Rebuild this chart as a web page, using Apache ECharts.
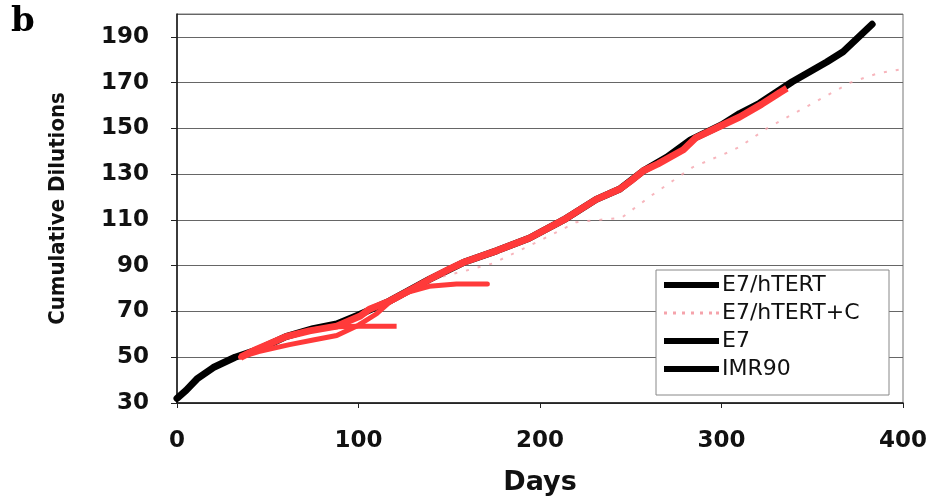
<!DOCTYPE html>
<html>
<head>
<meta charset="utf-8">
<script src="https://cdn.jsdelivr.net/npm/echarts@6/dist/echarts.min.js"></script>
<style>html,body{margin:0;padding:0;background:#fff}#c{width:933px;height:501px}</style>
</head>
<body>
<div id="c"></div>
<script>
// ---- data ----
var hTERT_days = [0, 5, 11, 20, 32, 45, 60, 75, 88, 100, 117, 139, 158, 176, 194, 213, 231, 244, 257, 270, 283, 300, 310, 321, 339, 358, 367, 383];
var hTERT_vals = [32, 35.5, 40.5, 45.5, 50, 53.5, 59, 62.5, 64.5, 68.5, 74.5, 84, 91.5, 96.5, 102, 110, 119, 123.5, 131.5, 137.5, 145, 151.5, 156.5, 161, 170.4, 179, 183.5, 195.5];

var hTERTC_days = [35, 44, 60, 73, 88, 101, 106, 117, 130, 139, 150, 158, 167, 176, 185, 194, 213, 222, 231, 244, 250, 257, 265, 279, 286, 298, 310, 322, 332, 336];
var hTERTC_vals = [50, 53.5, 59, 61.5, 63.6, 68, 71, 74.5, 80, 84, 88.5, 91.5, 94, 96.5, 99.3, 102, 110, 114.5, 119, 123.5, 127, 131.5, 134.5, 140.7, 146, 150.5, 155, 160.5, 165.6, 167.5];

var hTERTCdot_days = [140, 160, 174, 200, 220, 245, 262, 273, 284, 299, 305, 310, 325, 348, 371, 380, 386, 400];
var hTERTCdot_vals = [84, 88, 91, 101, 109, 111, 121, 127, 133, 138, 140, 142, 150, 160, 170, 172.5, 174, 176];

var E7_days = [35, 45, 62, 75, 88, 100, 110, 117, 127, 139, 154, 171];
var E7_vals = [50, 52.5, 55.5, 57.5, 59.5, 64, 69, 74, 78.4, 81, 82, 82];

var IMR90_days = [35, 45, 60, 75, 88, 100, 121];
var IMR90_vals = [50, 53.5, 59, 62, 63.3, 63.5, 63.5];

var seriesNames = ['E7/hTERT', 'E7/hTERT+C', 'E7', 'IMR90'];
var xTicks = [0, 100, 200, 300, 400];
var yTicks = [30, 50, 70, 90, 110, 130, 150, 170, 190];

function pairs(d, v) { return d.map(function (x, i) { return [x, v[i]]; }); }

var chart = echarts.init(document.getElementById('c'), null, {renderer: 'canvas'});
var RED = '#ff3a3a';
var PINK = '#f5a3ab';
var labelFont = 'DejaVu Sans';
var condFont = '"Liberation Sans Narrow", "DejaVu Sans Condensed", "DejaVu Sans", sans-serif';
var dotIcon = 'path://M0,0h3v3h-3z M9,0h3v3h-3z M18,0h3v3h-3z M27,0h3v3h-3z M36,0h3v3h-3z M45,0h3v3h-3z M52,0h3v3h-3z';

chart.setOption({
  animation: false,
  backgroundColor: '#fff',
  grid: {left: 177, right: 30, top: 14, bottom: 97, show: true, borderColor: '#777', borderWidth: 1},
  xAxis: {
    type: 'value', min: xTicks[0], max: xTicks[xTicks.length - 1], interval: 100,
    name: 'Days', nameLocation: 'middle', nameGap: 66,
    nameTextStyle: {fontFamily: labelFont, fontWeight: 'bold', fontSize: 27, color: '#111'},
    axisLine: {show: true, lineStyle: {color: '#111', width: 1.5}},
    axisTick: {show: true, length: 5, lineStyle: {color: '#222'}},
    axisLabel: {fontFamily: labelFont, fontWeight: 'bold', fontSize: 23, color: '#111', margin: 27},
    splitLine: {show: false}
  },
  yAxis: {
    type: 'value', min: yTicks[0], max: 200, interval: 20,
    name: 'Cumulative Dilutions', nameLocation: 'middle', nameGap: 108, nameRotate: 90,
    nameTextStyle: {fontFamily: condFont, fontWeight: 'bold', fontSize: 22, color: '#111'},
    axisLine: {show: true, lineStyle: {color: '#111', width: 1.5}},
    axisTick: {show: true, length: 6, lineStyle: {color: '#222'}},
    axisLabel: {fontFamily: labelFont, fontWeight: 'bold', fontSize: 23, color: '#111', margin: 28, showMaxLabel: false},
    splitLine: {show: true, lineStyle: {color: '#666', width: 1}}
  },
  legend: {
    orient: 'vertical', left: 664, top: 274, padding: 0, itemGap: 6,
    itemWidth: 55, itemHeight: 6,
    textStyle: {fontFamily: labelFont, fontSize: 22, color: '#111', lineHeight: 22, padding: [0, 0, 0, -2]},
    data: [
      {name: seriesNames[0], icon: 'rect'},
      {name: seriesNames[1], icon: dotIcon},
      {name: seriesNames[2], icon: 'rect'},
      {name: seriesNames[3], icon: 'rect'}
    ]
  },
  graphic: [
    {type: 'rect', z: 3, shape: {x: 656, y: 270, width: 233, height: 125},
     style: {fill: '#fff', stroke: '#888', lineWidth: 1}},
    {type: 'text', left: 11, top: 5, style: {text: 'b', font: 'bold 34px "DejaVu Serif"', fill: '#000'}}
  ],
  series: [
    {name: seriesNames[0], type: 'line', data: pairs(hTERT_days, hTERT_vals), symbol: 'none', z: 2,
     lineStyle: {color: '#000', width: 7, cap: 'round', join: 'round'}, itemStyle: {color: '#000'}},
    {name: seriesNames[1], type: 'line', data: pairs(hTERTCdot_days, hTERTCdot_vals), symbol: 'none', z: 2,
     lineStyle: {color: PINK, width: 2, type: [3, 9], opacity: 0.8}, itemStyle: {color: PINK}},
    {name: seriesNames[2], type: 'line', data: pairs(E7_days, E7_vals), symbol: 'none', z: 3,
     lineStyle: {color: RED, width: 5, cap: 'round', join: 'round'}, itemStyle: {color: '#000'}},
    {name: seriesNames[3], type: 'line', data: pairs(IMR90_days, IMR90_vals), symbol: 'none', z: 3,
     lineStyle: {color: RED, width: 5, cap: 'butt', join: 'round'}, itemStyle: {color: '#000'}},
    {name: seriesNames[1], type: 'line', data: pairs(hTERTC_days, hTERTC_vals), symbol: 'none', z: 3,
     lineStyle: {color: RED, width: 7, cap: 'butt', join: 'round'}, itemStyle: {color: PINK}}
  ]
});
</script>
</body>
</html>
